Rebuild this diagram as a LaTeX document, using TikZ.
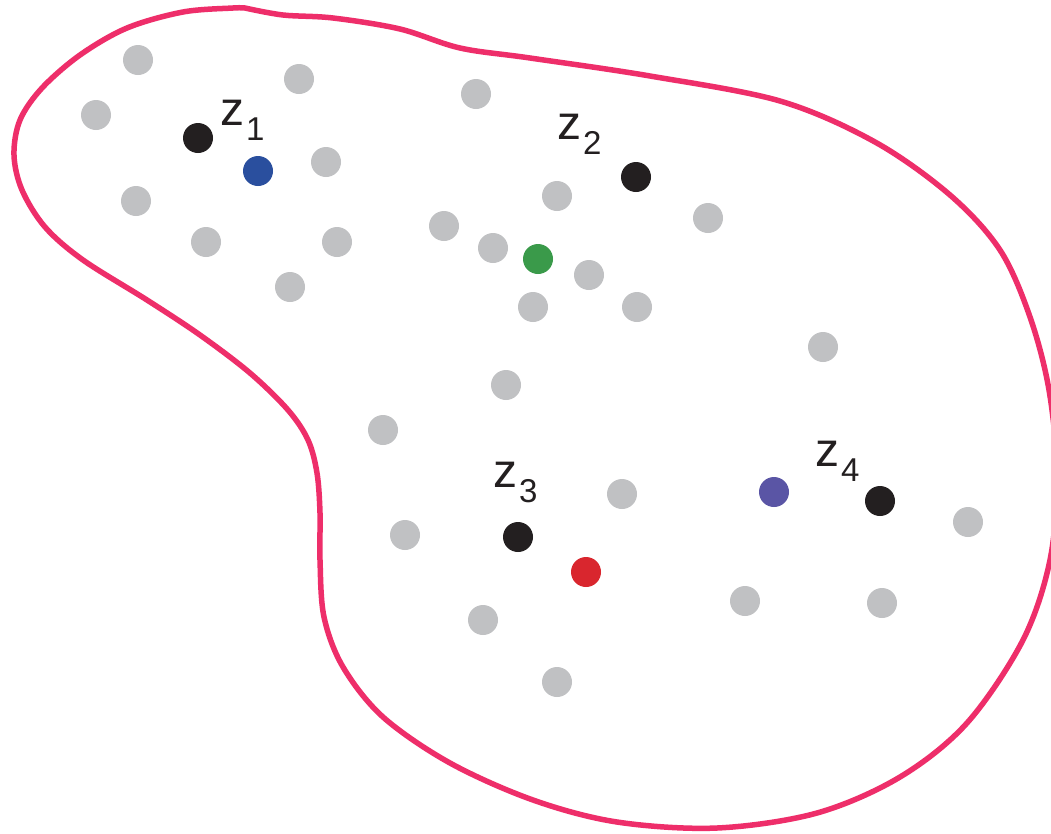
\documentclass[tikz,border=0pt]{standalone}
\usepackage{fontspec}
\setmainfont{Liberation Sans}
\definecolor{dotgray}{HTML}{C0C1C3}
\definecolor{dotblack}{HTML}{231F20}
\definecolor{dotblue}{HTML}{2A4F9E}
\definecolor{dotgreen}{HTML}{3A9A4A}
\definecolor{dotred}{HTML}{D9262E}
\definecolor{dotpurple}{HTML}{5A55A5}
\definecolor{blob}{HTML}{EE2E6A}
\newcommand{\zlab}[1]{{\fontsize{48}{48}\selectfont z}\kern2pt\raisebox{-15pt}{\fontsize{33}{33}\selectfont #1}}
\begin{document}
\begin{tikzpicture}[x=1pt,y=-1pt,
  dotbase/.style={circle,inner sep=0pt,minimum size=30pt,draw=none},
  gdot/.style={dotbase,fill=dotgray},
  kdot/.style={dotbase,fill=dotblack},
  zlabel/.style={anchor=base west,inner sep=0pt,text=dotblack}]
\useasboundingbox (0,0) rectangle (1051,833);
\clip (0,0) rectangle (1051,833);
\fill[white] (0,0) rectangle (1051,833);
% outline
\draw[blob,line width=5.5pt,line join=round] plot[smooth,tension=0.55] coordinates {
 (245,8) (283,15) (333,18) (400,29) (460,48) (530,58) (650,76) (780,101) (875,142)
 (950,195) (1000,250) (1030,317) (1049,390) (1057,475) (1050,560) (1023,640)
 (967,723) (900,777) (817,813) (717,828) (617,822) (533,800) (450,763) (383,717)
 (343,667) (324,617) (320,560) (320,513) (317,473) (308,440) (288,410) (250,373)
 (200,335) (147,300) (83,260) (45,227) (22,190) (14,155) (20,120) (42,88) (80,55) (127,28)
 (183,12) (233,8) (245,8)};
% gray dots
\node[gdot] (g1) at (138,60) {};
\node[gdot] (g2) at (299,79) {};
\node[gdot] (g3) at (96,115) {};
\node[gdot] (g4) at (476,94) {};
\node[gdot] (g5) at (326,162) {};
\node[gdot] (g6) at (136,201) {};
\node[gdot] (g7) at (206,242) {};
\node[gdot] (g8) at (337,242) {};
\node[gdot] (g9) at (290,287) {};
\node[gdot] (g10) at (557,196) {};
\node[gdot] (g11) at (444,226) {};
\node[gdot] (g12) at (493,248) {};
\node[gdot] (g13) at (589,275) {};
\node[gdot] (g14) at (533,307) {};
\node[gdot] (g15) at (637,307) {};
\node[gdot] (g16) at (708,218) {};
\node[gdot] (g17) at (823,347) {};
\node[gdot] (g18) at (506,385) {};
\node[gdot] (g19) at (383,430) {};
\node[gdot] (g20) at (622,494) {};
\node[gdot] (g21) at (405,535) {};
\node[gdot] (g22) at (968,522) {};
\node[gdot] (g23) at (483,620) {};
\node[gdot] (g24) at (745,601) {};
\node[gdot] (g25) at (882,603) {};
\node[gdot] (g26) at (557,682) {};
% coloured dots
\node[dotbase,fill=dotblue] (blue) at (258,171) {};
\node[dotbase,fill=dotgreen] (green) at (538,259) {};
\node[dotbase,fill=dotred] (red) at (586,572) {};
\node[dotbase,fill=dotpurple] (purple) at (774,492) {};
% black dots
\node[kdot] (z1) at (198,138) {};
\node[kdot] (z2) at (636,177) {};
\node[kdot] (z3) at (518,537) {};
\node[kdot] (z4) at (880,501) {};
% labels
\node[zlabel] (l1) at (220,125) {\zlab{1}};
\node[zlabel] (l2) at (557,139) {\zlab{2}};
\node[zlabel] (l3) at (493,487) {\zlab{3}};
\node[zlabel] (l4) at (815,466) {\zlab{4}};
\end{tikzpicture}
\end{document}
